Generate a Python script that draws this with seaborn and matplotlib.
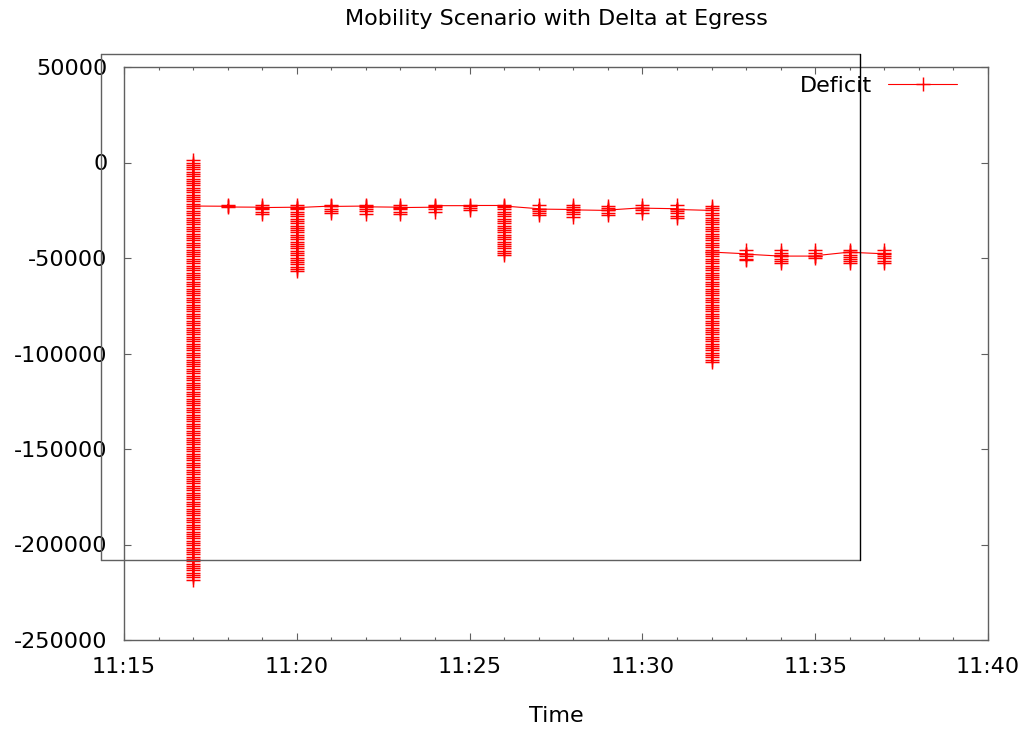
import pandas as pd
import matplotlib
matplotlib.use("Agg")
import matplotlib.pyplot as plt
import matplotlib.dates as mdates
from matplotlib.lines import Line2D
from matplotlib.ticker import FuncFormatter
import seaborn as sns

# Deficit samples logged per minute (bytes); several samples share a minute stamp
minutes = ["11:17", "11:18", "11:19", "11:20", "11:21", "11:22", "11:23",
           "11:24", "11:25", "11:26", "11:27", "11:28", "11:29", "11:30",
           "11:31", "11:32", "11:33", "11:34", "11:35", "11:36", "11:37"]

deficit_1117 = [
    -24000, -25200, -26400, -27600, -28800, -30000, -31200, -32400, -33600, -34800,
    -36000, -37200, -38400, -39600, -40800, -42000, -43200, -44400, -45600, -46800,
    -48000, -49200, -50400, -51600, -52800, -54000, -55200, -56400, -57600, -58800,
    -60000, -61200, -62400, -63600, -64800, -66000, -67200, -68400, -69600, -70800,
    -72000, -73200, -74400, -75600, -76800, -78000, -79200, -80400, -81600, -82800,
    -84000, -85200, -86400, -87600, -88800, -90000, -91200, -92400, -93600, -94800,
    -96000, -97200, -98400, -99600, -100800, -102000, -103200, -104400, -105600, -106800,
    -108000, -109200, -110400, -111600, -112800, -114000, -115200, -116400, -117600, -118800,
    -120000, -121200, -122400, -123600, -124800, -126000, -127200, -128400, -129600, -130800,
    -132000, -133200, -134400, -135600, -136800, -138000, -139200, -140400, -141600, -142800,
    -144000, -145200, -146400, -147600, -148800, -150000, -151200, -152400, -153600, -154800,
    -156000, -157200, -158400, -159600, -160800, -162000, -163200, -164400, -165600, -166800,
    -168000, -169200, -170400, -171600, -172800, -174000, -175200, -176400, -177600, -178800,
    -180000, -181200, -182400, -183600, -184800, -186000, -187200, -188400, -189600, -190800,
    -192000, -193200, -194400, -195600, -196800, -198000, -199200, -200400, -201600, -202800,
    -204000, -205200, -206400, -207600, -208800, -210000, -211200, -212400, -213600, -214800,
    -216000, -217200, -218400,
    1200, 0, -1200, -2400, -3600, -4800, -6000, -7200, -8400, -9600,
    -10800, -12000, -13200, -14400, -15600, -16800, -18000, -19200, -20400, -21600,
    -22800,
]
deficit_1118 = [-22900, -22200, -23300]
deficit_1119 = [-23400, -22000, -24600, -25800, -27000, -23600]
deficit_1120 = [
    -23400, -22200, -24600, -25800, -27000, -28200, -29400, -30600, -31800, -33000,
    -34200, -35400, -36600, -37800, -39000, -40200, -41400, -42600, -43800, -45000,
    -46200, -47400, -48600, -49800, -51000, -52200, -53400, -54600, -55800, -57000,
    -23600,
]
deficit_1121 = [-22800, -22000, -24200, -25400, -26600, -23000]
deficit_1122 = [-22800, -22000, -24200, -25400, -27000, -23200]
deficit_1123 = [-23400, -22000, -24600, -25800, -27000, -23600]
deficit_1124 = [-23400, -22200, -24600, -25800, -22600]
deficit_1125 = [-22600, -23800, -25000, -22500]
deficit_1126 = [
    -22500, -23400, -24600, -25800, -27000, -28200, -29400, -30600, -31800, -33000,
    -34200, -35400, -36600, -37800, -39000, -40200, -41400, -42600, -43800, -45000,
    -46200, -47400, -48600, -22800,
]
deficit_1127 = [-24200, -22000, -25400, -26600, -27600, -24400]
deficit_1128 = [-24600, -22000, -23200, -25800, -27000, -28600, -24800]
deficit_1129 = [-25100, -22600, -23800, -26400, -27600, -24900]
deficit_1130 = [-23700, -22000, -25000, -26200, -23900]
deficit_1131 = [-24200, -22000, -25400, -26600, -27800, -28800, -24600]
deficit_1132 = [
    -25100, -22800, -24000,
    -26400, -27600, -28800, -30000, -31200, -32400, -33600, -34800, -36000, -37200,
    -38400, -39600, -40800, -42000, -43200, -44400, -45600, -46800, -48000, -49200,
    -50400, -51600, -52800, -54000, -55200, -56400, -57600, -58800, -60000, -61200,
    -62400, -63600, -64800, -66000, -67200, -68400, -69600, -70800, -72000, -73200,
    -74400, -75600, -76800, -78000, -79200, -80400, -81600, -82800, -84000, -85200,
    -86400, -87600, -88800, -90000, -91200, -92400, -93600, -94800, -96000, -97200,
    -98400, -99600, -100800, -102000, -103200, -104400,
    -46900,
]
deficit_1133 = [-47800, -46000, -49200, -50400, -51300, -48000]
deficit_1134 = [-49000, -46000, -47200, -48400, -50400, -51600, -52800, -49000]
deficit_1135 = [-49000, -46000, -47200, -50200, -48800]
deficit_1136 = [-46900, -46000, -48200, -49400, -50600, -51800, -52800, -47000]
deficit_1137 = [-47800, -46000, -49000, -50200, -51400, -52800, -47600]

samples = [deficit_1117, deficit_1118, deficit_1119, deficit_1120, deficit_1121,
           deficit_1122, deficit_1123, deficit_1124, deficit_1125, deficit_1126,
           deficit_1127, deficit_1128, deficit_1129, deficit_1130, deficit_1131,
           deficit_1132, deficit_1133, deficit_1134, deficit_1135, deficit_1136,
           deficit_1137]

y_ticks = [50000, 0, -50000, -100000, -150000, -200000, -250000]

rows = []
for stamp, values in zip(minutes, samples):
    t = pd.Timestamp(f"2000-01-01 {stamp}")
    for v in values:
        rows.append((t, v))
df = pd.DataFrame(rows, columns=["time", "deficit"])

sns.set_theme(style="ticks", rc={
    "axes.unicode_minus": False,
    "axes.edgecolor": "#606060",
    "axes.linewidth": 1.0,
    "xtick.color": "#606060",
    "ytick.color": "#606060",
    "xtick.labelcolor": "black",
    "ytick.labelcolor": "black",
    "text.color": "black",
    "axes.labelcolor": "black",
    "axes.titlecolor": "black",
})
plt.rcParams["font.family"] = ["DejaVu Sans"]
plt.rcParams["font.size"] = 16

fig = plt.figure(figsize=(10.23, 7.29), dpi=100)
ax = fig.add_axes([124 / 1023, 1 - 640 / 729, (988 - 124) / 1023, (640 - 67) / 729])

sns.lineplot(data=df, x="time", y="deficit", estimator=None, sort=False,
             color="#ff0000", linewidth=0.8, marker="+", markersize=10.5,
             markeredgewidth=1.05, markeredgecolor="#ff0000", label="Deficit", ax=ax)

t0 = pd.Timestamp("2000-01-01 11:15")
t1 = pd.Timestamp("2000-01-01 11:40")
ax.set_xlim(t0, t1)
ax.set_ylim(-250000, 50000)
ax.set_yticks(y_ticks)
ax.yaxis.set_major_formatter(FuncFormatter(lambda v, p: f"{int(v)}"))

ax.xaxis.set_major_locator(mdates.MinuteLocator(byminute=range(0, 60, 5)))
ax.xaxis.set_minor_locator(mdates.MinuteLocator())
ax.xaxis.set_major_formatter(mdates.DateFormatter("%H:%M"))

ax.tick_params(which="both", direction="in", top=True, right=True, width=0.8)
ax.tick_params(which="major", length=4.7)
ax.tick_params(which="minor", length=2.5)
ax.tick_params(axis="y", which="major", pad=12, labelsize=16)
ax.tick_params(axis="x", which="major", pad=12, labelsize=16)

ax.set_title("Mobility Scenario with Delta at Egress", fontsize=16, pad=30, color="black")
ax.set_xlabel("Time", fontsize=16, color="black")
ax.xaxis.label.set_va("center")
ax.xaxis.set_label_coords(0.5, -(716 - 640) / 573)
ax.set_ylabel("")

leg = ax.legend(loc="upper right", bbox_to_anchor=(0.9745, 1.0), frameon=False,
                markerfirst=False, handlelength=3.1, handletextpad=0.72,
                borderaxespad=0, fontsize=16)
for txt in leg.get_texts():
    txt.set_color("black")

# Stray border box drawn over the plot area
x0, x1 = 101 / 1023, 860 / 1023
yb, yt = 1 - 560 / 729, 1 - 54 / 729
for xs, ys, col in [([x0, x1], [yt, yt], "#606060"),
                    ([x0, x0], [yb, yt], "#606060"),
                    ([x0, x1], [yb, yb], "#606060"),
                    ([x1, x1], [yb, yt], "black")]:
    fig.add_artist(Line2D(xs, ys, transform=fig.transFigure, color=col,
                          linewidth=1.0, zorder=5))

fig.savefig("out.png", dpi=100)
